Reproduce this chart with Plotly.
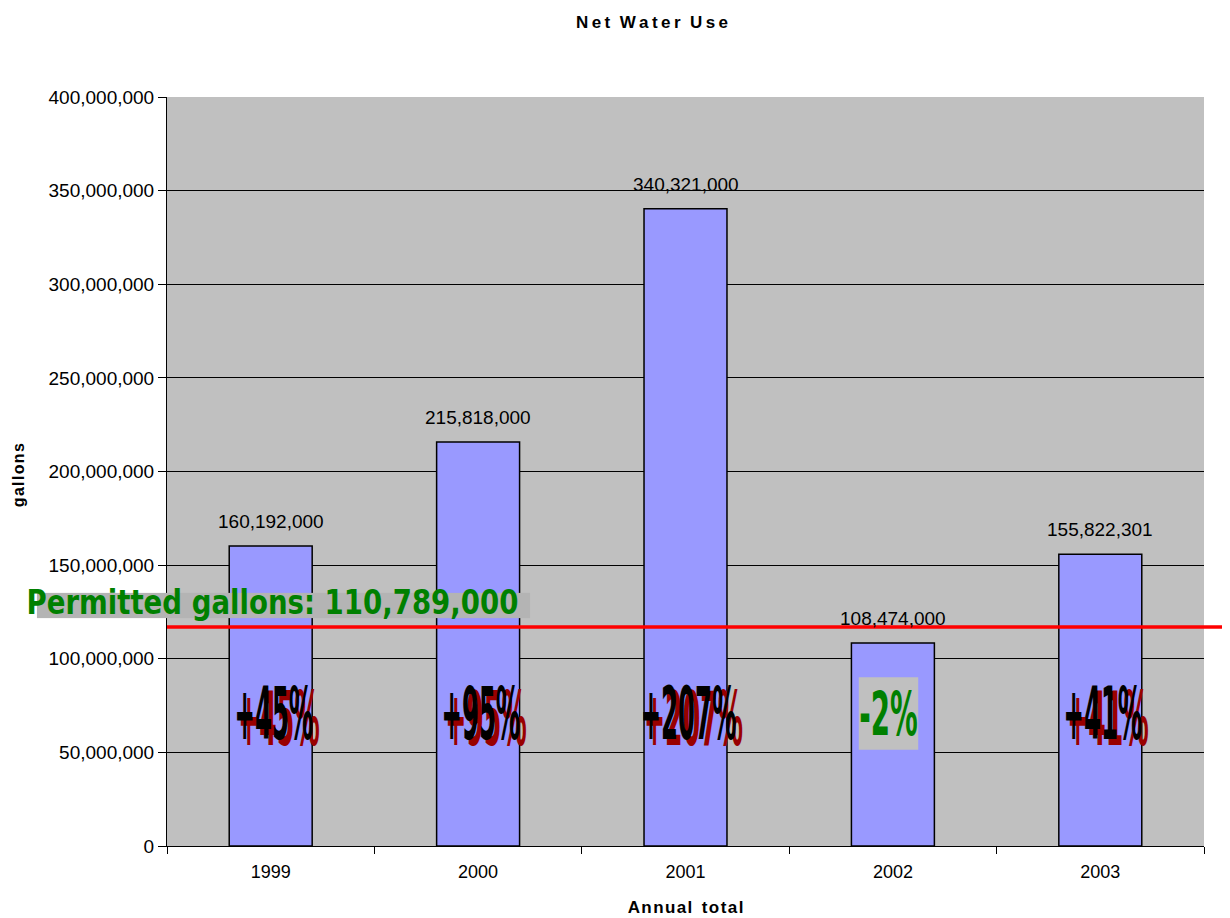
import json
import plotly.graph_objects as go

years = ["1999", "2000", "2001", "2002", "2003"]
gallons = [160192000, 215818000, 340321000, 108474000, 155822301]
pct_labels = ["+45%", "+95%", "+207%", "-2%", "+41%"]
pct_label_y = 71000000
permitted = 110789000
permitted_line_level = 117000000  # where the red line is drawn in the picture

SANS = "Liberation Sans, Arial, sans-serif"
BIG = "DejaVu Sans, sans-serif"


def spaced(s, sep):
    return "  ".join(sep.join(w) for w in s.split())


fig = go.Figure()
fig.add_trace(go.Bar(
    x=years, y=gallons,
    marker=dict(color="#9999FF", line=dict(color="black", width=1.5)),
    hoverinfo="x+y",
))

anns = []
squeeze = []  # (annotation index, sx, sy)
for i, v in enumerate(gallons):
    anns.append(dict(x=i, y=v, xref="x", yref="y", text=f"{v:,}", showarrow=False,
                     yanchor="bottom", yshift=12,
                     font=dict(family=SANS, size=19, color="black")))

for i, lab in enumerate(pct_labels):
    if lab.startswith("-"):
        squeeze.append((len(anns), 0.66, 1.45))
        anns.append(dict(x=i, y=pct_label_y, xref="x", yref="y", text="<b>" + lab + "</b>",
                         showarrow=False, bgcolor="#C0C0C0", borderpad=0, xshift=-4,
                         font=dict(family=BIG, size=42, color="#008000")))
    else:
        squeeze.append((len(anns), 0.6, 1.8))
        anns.append(dict(x=i, y=pct_label_y, xref="x", yref="y", text="<b>" + lab + "</b>",
                         showarrow=False, xshift=8, yshift=-5,
                         font=dict(family=BIG, size=42, color="#990000")))
        squeeze.append((len(anns), 0.58, 1.75))
        anns.append(dict(x=i, y=pct_label_y, xref="x", yref="y", text="<b>" + lab + "</b>",
                         showarrow=False, xshift=3,
                         font=dict(family=BIG, size=42, color="black")))

perm_text = f"<b>Permitted gallons: {permitted:,}</b>"
squeeze.append((len(anns), 0.92, 0.7))
anns.append(dict(x=0.108, y=permitted_line_level, xref="paper", yref="y", text=perm_text,
                 showarrow=False, xanchor="center", yanchor="bottom", yshift=3, xshift=5,
                 bgcolor="#B4B4B4", borderpad=0,
                 font=dict(family=BIG, size=30, color="rgba(0,0,0,0)")))
squeeze.append((len(anns), 0.92, 1.15))
anns.append(dict(x=0.102, y=permitted_line_level, xref="paper", yref="y", text=perm_text,
                 showarrow=False, xanchor="center", yanchor="bottom", yshift=6,
                 font=dict(family=BIG, size=30, color="#008000")))

# y-axis title placed as a rotated annotation
anns.append(dict(x=-0.1437, y=0.495, xref="paper", yref="paper",
                 text="<b>" + spaced("gallons", "\u200a") + "</b>", textangle=-90,
                 showarrow=False, xanchor="center", yanchor="middle",
                 font=dict(family=SANS, size=16, color="black")))

fig.update_layout(
    width=1222, height=910,
    margin=dict(l=159, r=26, t=89, b=72),
    paper_bgcolor="white",
    plot_bgcolor="#C0C0C0",
    bargap=0.6,
    showlegend=False,
    title=dict(text="<b>" + spaced("Net Water Use", "\u2009") + "</b>",
               x=0.527, xanchor="center", xref="container",
               y=0.9846, yref="container", yanchor="middle",
               font=dict(family=SANS, size=17, color="black")),
    xaxis=dict(
        type="category", automargin=False,
        tickson="boundaries", ticks="outside", ticklen=7, tickcolor="black",
        ticklabelstandoff=9,
        showline=True, linecolor="black", linewidth=1,
        showgrid=False,
        tickfont=dict(family=SANS, size=18, color="black"),
        title=dict(text="<b>" + spaced("Annual total", "\u200a") + "</b>", standoff=20,
                   font=dict(family=SANS, size=17, color="black")),
    ),
    yaxis=dict(
        range=[0, 400000000], dtick=50000000, tickformat=",", automargin=False,
        ticks="outside", ticklen=8, tickcolor="black",
        showline=True, linecolor="black", linewidth=1,
        showgrid=True, gridcolor="black", gridwidth=1,
        zeroline=False,
        tickfont=dict(family=SANS, size=19, color="black"),
    ),
    annotations=anns,
    shapes=[dict(type="line", xref="paper", yref="y", x0=0, x1=1.023,
                 y0=permitted_line_level, y1=permitted_line_level,
                 line=dict(color="#FF0000", width=3.5), layer="above")],
)

post = """
var gd = document.querySelector('.plotly-graph-div');
var specs = SPECS;
function squeezeText(){
  specs.forEach(function(s){
    var g = gd.querySelector('g.annotation[data-index="' + s[0] + '"] g.annotation-text-g');
    if(!g || g.getAttribute('data-sq')) return;
    var bb = g.getBBox();
    var cx = bb.x + bb.width / 2, cy = bb.y + bb.height / 2;
    var t = g.getAttribute('transform') || '';
    g.setAttribute('transform', t + ' translate(' + cx + ',' + cy + ') scale(' + s[1] + ',' + s[2] + ') translate(' + (-cx) + ',' + (-cy) + ')');
    g.setAttribute('data-sq', '1');
  });
}
squeezeText();
""".replace("SPECS", json.dumps(squeeze))

fig.write_html("out.html", post_script=post)
